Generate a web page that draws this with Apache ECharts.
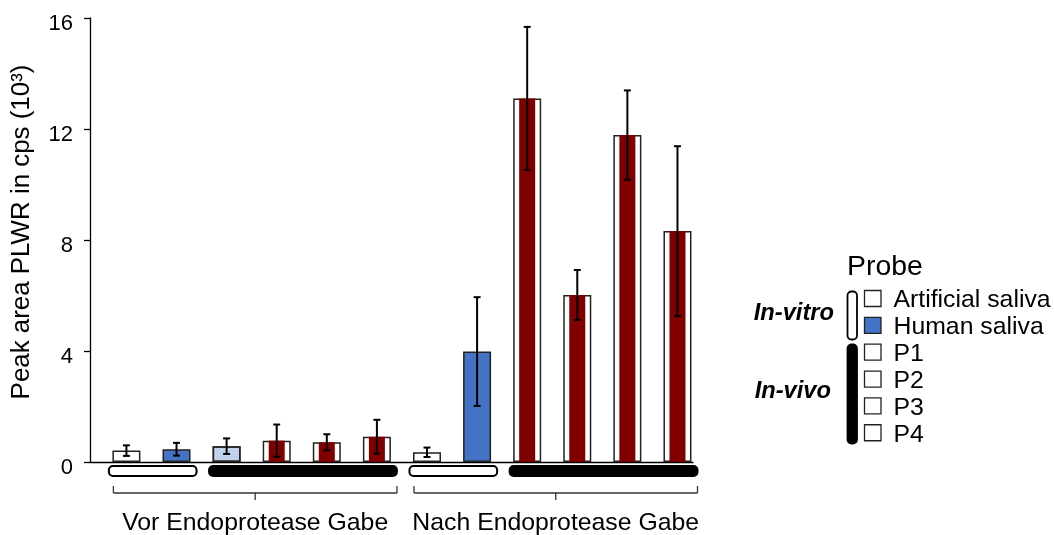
<!DOCTYPE html>
<html><head><meta charset="utf-8">
<script src="https://cdn.jsdelivr.net/npm/echarts@6/dist/echarts.min.js"></script>
<style>html,body{margin:0;padding:0;background:#fff}#c{width:1054px;height:535px}</style>
</head><body><div id="c"></div>
<script>
// ---- data ----
const categories = ['Artificial saliva','Human saliva','P1','P2','P3','P4','Artificial saliva','Human saliva','P1','P2','P3','P4'];
const fillKinds  = ['open','human','light','split','split','split','open','human','split','split','split','split'];
const values = [0.41, 0.46, 0.57, 0.77, 0.71, 0.91, 0.35, 3.98, 13.10, 6.02, 11.78, 8.32];
const errors = [0.19, 0.23, 0.28, 0.58, 0.29, 0.61, 0.17, 1.96, 2.58, 0.90, 1.61, 3.06];
const yTicks = [0, 4, 8, 12, 16];
const originGroups = [['vitro', 0, 1], ['vivo', 2, 5], ['vitro', 6, 7], ['vivo', 8, 11]];
const phaseGroups = [['Vor Endoprotease Gabe', 0, 5], ['Nach Endoprotease Gabe', 6, 11]];
const legendItems = ['Artificial saliva', 'Human saliva', 'P1', 'P2', 'P3', 'P4'];
const legendFills = ['open', 'human', 'open', 'open', 'open', 'open'];
const yTitle = 'Peak area PLWR in cps (10\u00B3)';

// ---- styles ----
const FONT = "'Liberation Sans', Arial, Helvetica, sans-serif";
const BLUE = '#4472c4', RED = '#800000', LIGHT = '#c4d3ee', EDGE = '#222';
function barStyle(kind) {
  if (kind === 'human') return { color: BLUE, borderColor: EDGE, borderWidth: 1.5 };
  if (kind === 'light') return { color: LIGHT, borderColor: EDGE, borderWidth: 1.5,
    decal: { symbol: 'rect', symbolSize: 0.5, dashArrayX: [2, 1], dashArrayY: [2, 1], color: 'rgba(140,165,215,0.55)' } };
  return { color: '#fff', borderColor: EDGE, borderWidth: 1.5 };
}

const chart = echarts.init(document.getElementById('c'), null, { renderer: 'canvas' });

const xMin = -0.727, xMax = 11.31;

// legend graphics
const legendGraphic = [];
const rowY0 = 298.5, rowStep = 26.85;
legendGraphic.push({ type: 'text', left: 847, top: 253, style: { text: 'Probe', fontSize: 28.4, fontFamily: FONT, fill: '#000' } });
legendItems.forEach((name, i) => {
  const cy = rowY0 + i * rowStep;
  legendGraphic.push({ type: 'rect', shape: { x: 864.5, y: cy - 8, width: 16.5, height: 16 },
    style: { fill: legendFills[i] === 'human' ? BLUE : '#fff', stroke: EDGE, lineWidth: 1.3 } });
  legendGraphic.push({ type: 'text', x: 893.5, y: cy + 2, style: { text: name, fontSize: 24.8, fontFamily: FONT, fill: '#000', verticalAlign: 'middle', align: 'left' } });
});
legendGraphic.push({ type: 'rect', shape: { x: 847.5, y: 291.5, width: 9.5, height: 48, r: 4 }, style: { fill: '#fff', stroke: '#000', lineWidth: 1.8 } });
legendGraphic.push({ type: 'rect', shape: { x: 847.5, y: 344.5, width: 9.5, height: 99, r: 4 }, style: { fill: '#000', stroke: '#000', lineWidth: 1.8 } });
legendGraphic.push({ type: 'text', x: 834, y: 313, style: { text: 'In-vitro', fontSize: 23.7, fontWeight: 'bold', fontStyle: 'italic', fontFamily: FONT, fill: '#000', align: 'right', verticalAlign: 'middle' } });
legendGraphic.push({ type: 'text', x: 831, y: 391.5, style: { text: 'In-vivo', fontSize: 23.7, fontWeight: 'bold', fontStyle: 'italic', fontFamily: FONT, fill: '#000', align: 'right', verticalAlign: 'middle' } });

const option = {
  animation: false,
  backgroundColor: '#fff',
  grid: { left: 90, top: 18, width: 603, height: 444, containLabel: false },
  xAxis: [
    { type: 'value', min: xMin, max: xMax, axisLine: { show: true, lineStyle: { color: '#000', width: 1.3 } },
      axisTick: { show: false }, axisLabel: { show: false }, splitLine: { show: false } },
    { type: 'value', min: xMin, max: xMax, show: false, splitLine: { show: false } }
  ],
  yAxis: {
    type: 'value', min: yTicks[0], max: yTicks[yTicks.length - 1], interval: yTicks[1] - yTicks[0],
    axisLine: { show: true, onZero: false, lineStyle: { color: '#000', width: 1.3 } },
    axisTick: { show: true, length: 6, lineStyle: { color: '#000', width: 1.3 } },
    splitLine: { show: false },
    axisLabel: { fontSize: 22, color: '#000', fontFamily: FONT, margin: 17, verticalAlign: 'top', lineHeight: 12 },
    name: yTitle, nameLocation: 'middle', nameRotate: 90, nameGap: 55,
    nameTextStyle: { fontSize: 25.9, color: '#000', fontFamily: FONT, padding: [0, 0, 0, 16] }
  },
  graphic: legendGraphic,
  series: [
    { type: 'bar', name: 'outer', xAxisIndex: 0, barWidth: 28, z: 2,
      data: values.map((v, i) => ({ name: categories[i], value: [i, v], itemStyle: barStyle(fillKinds[i]) })) },
    { type: 'bar', name: 'inner', xAxisIndex: 1, barWidth: 16, z: 3,
      itemStyle: { color: RED },
      data: values.map((v, i) => [i, v]).filter((d, i) => fillKinds[i] === 'split') },
    { type: 'custom', name: 'error', xAxisIndex: 0, z: 5,
      data: values.map((v, i) => [i, v, errors[i]]),
      encode: { x: 0, y: 1 },
      renderItem: function (params, api) {
        const x = api.value(0), v = api.value(1), e = api.value(2);
        const t = api.coord([x, v + e]), b = api.coord([x, v - e]);
        const hw = 3.5, st = { stroke: '#000', lineWidth: 2 };
        return { type: 'group', children: [
          { type: 'line', shape: { x1: t[0], y1: t[1], x2: b[0], y2: b[1] }, style: st },
          { type: 'line', shape: { x1: t[0] - hw, y1: t[1], x2: t[0] + hw, y2: t[1] }, style: st },
          { type: 'line', shape: { x1: b[0] - hw, y1: b[1], x2: b[0] + hw, y2: b[1] }, style: st }
        ] };
      } },
    { type: 'custom', name: 'origin', xAxisIndex: 0, z: 4,
      data: originGroups.map((g, i) => [g[1], g[2], 0, i]),
      encode: { x: [0, 1], y: 2 },
      renderItem: function (params, api) {
        const g = originGroups[api.value(3)];
        const p1 = api.coord([api.value(0) - 0.35, 0]), p2 = api.coord([api.value(1) + 0.4, 0]);
        return { type: 'rect', shape: { x: p1[0], y: p1[1] + 4, width: p2[0] - p1[0], height: 10, r: 4 },
          style: { fill: g[0] === 'vitro' ? '#fff' : '#000', stroke: '#000', lineWidth: 2 } };
      } },
    { type: 'custom', name: 'phase', xAxisIndex: 0, z: 4,
      data: phaseGroups.map((g, i) => [g[1], g[2], 0, i]),
      encode: { x: [0, 1], y: 2 },
      renderItem: function (params, api) {
        const g = phaseGroups[api.value(3)];
        const p1 = api.coord([api.value(0) - 0.26, 0]), p2 = api.coord([api.value(1) + 0.4, 0]);
        const y = p1[1] + 31, cx = (p1[0] + p2[0]) / 2, st = { stroke: '#333', lineWidth: 1.3 };
        return { type: 'group', children: [
          { type: 'line', shape: { x1: p1[0], y1: y, x2: p2[0], y2: y }, style: st },
          { type: 'line', shape: { x1: p1[0], y1: y, x2: p1[0], y2: y - 7 }, style: st },
          { type: 'line', shape: { x1: p2[0], y1: y, x2: p2[0], y2: y - 7 }, style: st },
          { type: 'line', shape: { x1: cx, y1: y, x2: cx, y2: y + 7 }, style: st },
          { type: 'text', x: cx, y: y + 30, style: { text: g[0], fontSize: 24.8, fontFamily: FONT, fill: '#000', align: 'center', verticalAlign: 'middle' } }
        ] };
      } }
  ]
};
chart.setOption(option);
</script>
</body></html>
